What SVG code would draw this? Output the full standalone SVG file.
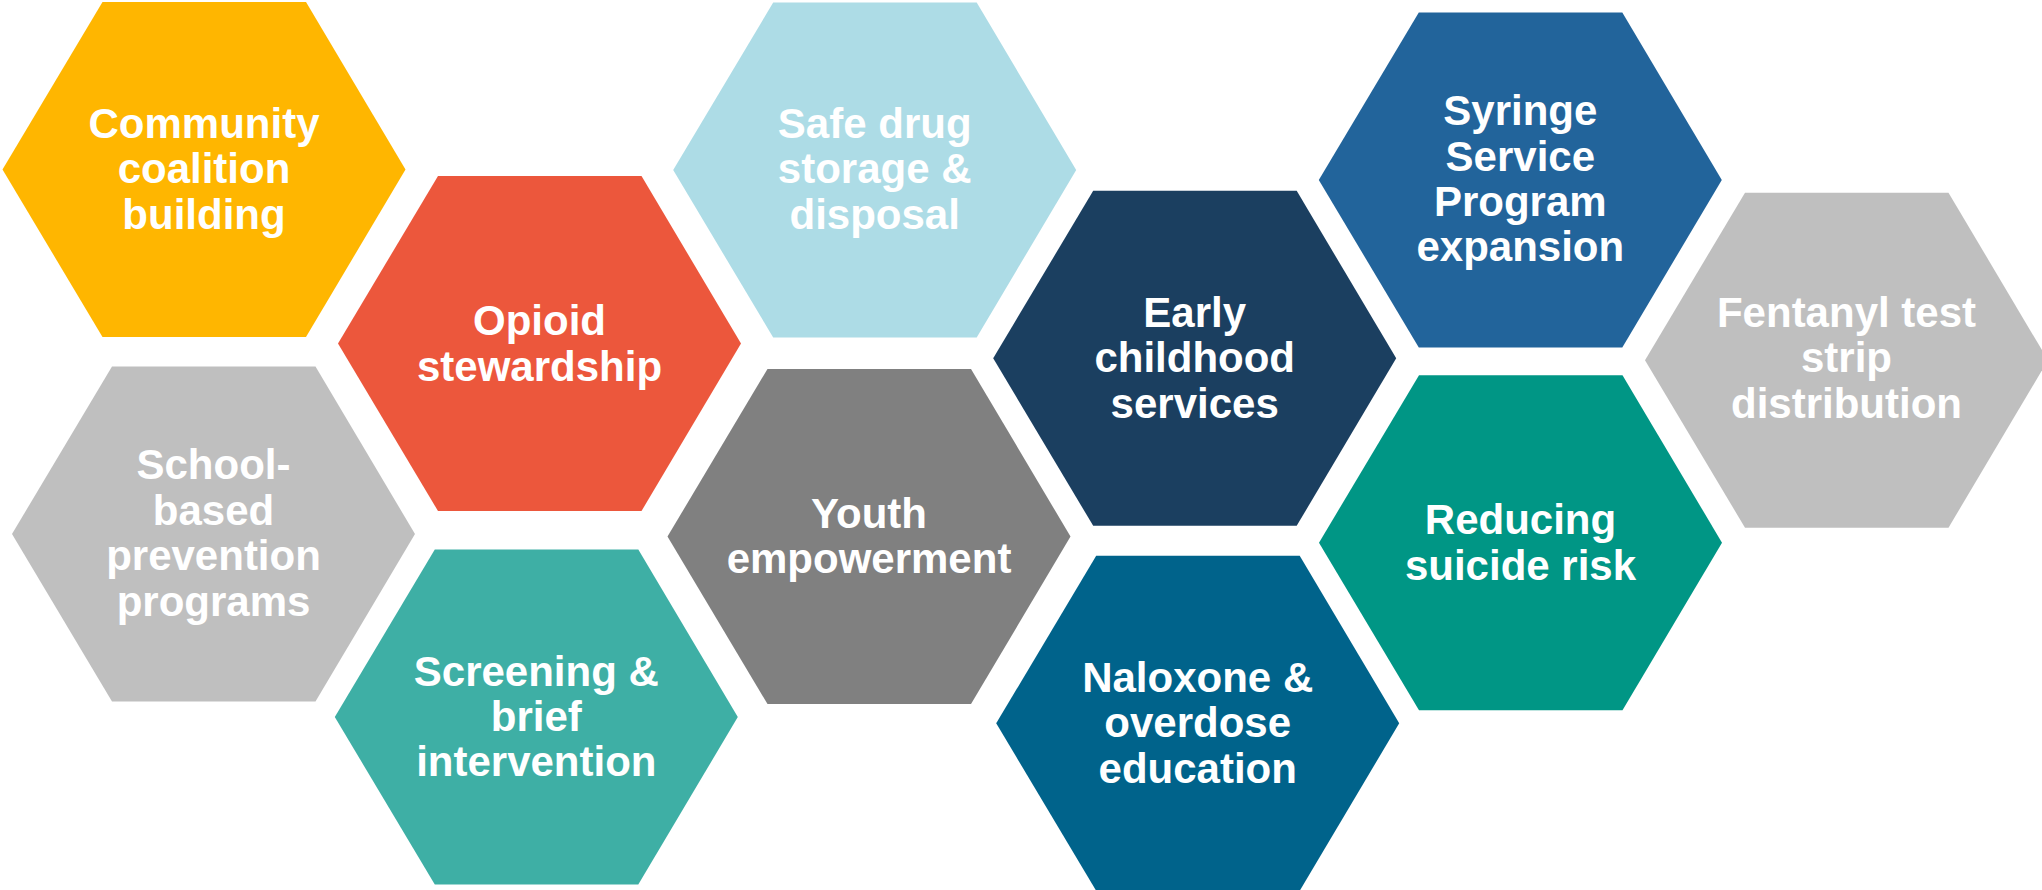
<svg xmlns="http://www.w3.org/2000/svg" xmlns:xlink="http://www.w3.org/1999/xlink" width="2042" height="890" viewBox="0 0 2042 890">
<style>
.lbl{font-family:"Liberation Sans",Arial,sans-serif;font-weight:bold;font-size:42px;fill:#FFFFFF;text-anchor:middle}
</style>
<defs>
<polygon id="hex" points="-201.5,0 -101.5,-167.5 102,-167.5 201.5,0 102,167.5 -101.5,167.5"/>
</defs>
<rect width="2042" height="890" fill="#FFFFFF"/>
<g id="connectors"></g>
<g id="n-community" transform="translate(204,169.5)">
<use href="#hex" fill="#FFB600"/>
<text class="lbl"><tspan x="0" y="-32">Community</tspan><tspan x="0" y="13.5">coalition</tspan><tspan x="0" y="59.2">building</tspan></text>
</g>
<g id="n-opioid" transform="translate(539.5,343.5)">
<use href="#hex" fill="#EC573C"/>
<text class="lbl"><tspan x="0" y="-8.5">Opioid</tspan><tspan x="0" y="37.2">stewardship</tspan></text>
</g>
<g id="n-safe" transform="translate(874.7,170)">
<use href="#hex" fill="#ADDCE6"/>
<text class="lbl"><tspan x="0" y="-32.3">Safe drug</tspan><tspan x="0" y="13.3">storage &amp;</tspan><tspan x="0" y="59">disposal</tspan></text>
</g>
<g id="n-school" transform="translate(213.5,534)">
<use href="#hex" fill="#BFBFBF"/>
<text class="lbl"><tspan x="0" y="-55">School-</tspan><tspan x="0" y="-9.3">based</tspan><tspan x="0" y="36.3">prevention</tspan><tspan x="0" y="81.7">programs</tspan></text>
</g>
<g id="n-screening" transform="translate(536.3,717)">
<use href="#hex" fill="#3EAFA5"/>
<text class="lbl"><tspan x="0" y="-31.3">Screening &amp;</tspan><tspan x="0" y="13.7">brief</tspan><tspan x="0" y="59">intervention</tspan></text>
</g>
<g id="n-youth" transform="translate(869,536.5)">
<use href="#hex" fill="#808080"/>
<text class="lbl"><tspan x="0" y="-8.8">Youth</tspan><tspan x="0" y="36.8">empowerment</tspan></text>
</g>
<g id="n-early" transform="translate(1194.7,358.3)">
<use href="#hex" fill="#1B3F60"/>
<text class="lbl"><tspan x="0" y="-31.7">Early</tspan><tspan x="0" y="14">childhood</tspan><tspan x="0" y="59.7">services</tspan></text>
</g>
<g id="n-naloxone" transform="translate(1197.7,723.3)">
<use href="#hex" fill="#00638B"/>
<text class="lbl"><tspan x="0" y="-31.7">Naloxone &amp;</tspan><tspan x="0" y="14">overdose</tspan><tspan x="0" y="59.7">education</tspan></text>
</g>
<g id="n-syringe" transform="translate(1520.3,180)">
<use href="#hex" fill="#22649B"/>
<text class="lbl"><tspan x="0" y="-55">Syringe</tspan><tspan x="0" y="-9.3">Service</tspan><tspan x="0" y="36">Program</tspan><tspan x="0" y="80.7">expansion</tspan></text>
</g>
<g id="n-reducing" transform="translate(1520.5,542.7)">
<use href="#hex" fill="#009685"/>
<text class="lbl"><tspan x="0" y="-8.8">Reducing</tspan><tspan x="0" y="36.8">suicide risk</tspan></text>
</g>
<g id="n-fentanyl" transform="translate(1846.5,360.2)">
<use href="#hex" fill="#BFBFBF"/>
<text class="lbl"><tspan x="0" y="-33.5">Fentanyl test</tspan><tspan x="0" y="12.1">strip</tspan><tspan x="0" y="57.5">distribution</tspan></text>
</g>
</svg>
